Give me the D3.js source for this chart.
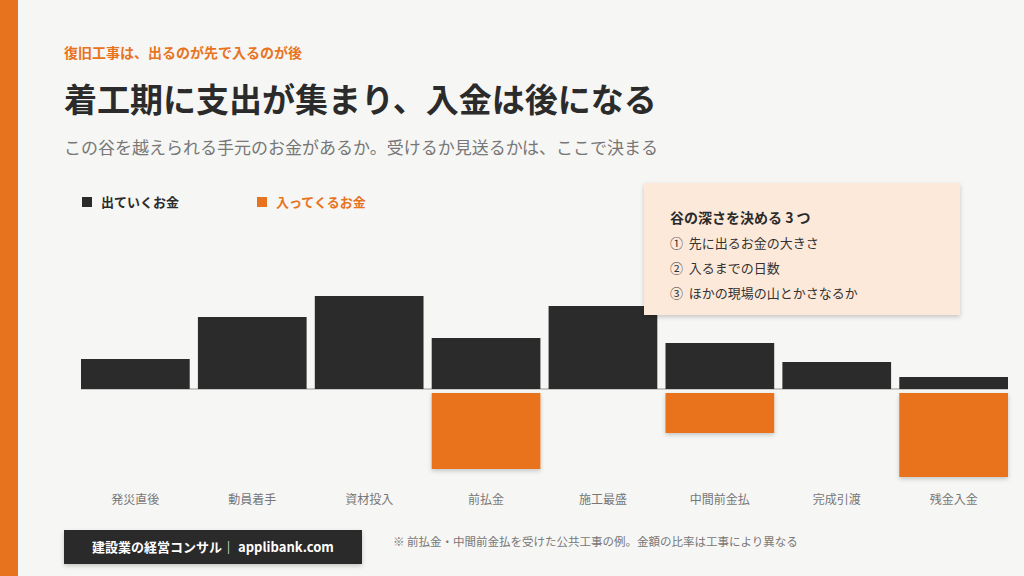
<!DOCTYPE html>
<html><head><meta charset="utf-8">
<script src="https://cdn.jsdelivr.net/npm/d3@7"></script>
<style>
body{margin:0;background:#f6f6f4;font-family:"Noto Sans CJK JP","Noto Sans",sans-serif;}
</style></head>
<body><svg id="chart" width="1024" height="576"></svg>
<script>
const categories = ["発災直後","動員着手","資材投入","前払金","施工最盛","中間前金払","完成引渡","残金入金"];
const outflow = [30, 72, 93, 51, 83, 46, 27, 12];
const inflow = [0, 0, 0, 80, 0, 44, 0, 88];
const boxLines = ["①  先に出るお金の大きさ","②  入るまでの日数","③  ほかの現場の山とかさなるか"];

const svg = d3.select("#chart");
const orange = "#e8731f", dark = "#2b2b2b";

svg.append("rect").attr("width",1024).attr("height",576).attr("fill","#f6f6f4");
svg.append("rect").attr("width",18).attr("height",576).attr("fill",orange);

svg.append("text").attr("x",64).attr("y",58).attr("fill",orange).attr("font-size",14).attr("font-weight",700)
  .text("復旧工事は、出るのが先で入るのが後");
svg.append("text").attr("x",64).attr("y",112).attr("fill",dark).attr("font-size",33).attr("font-weight",700)
  .text("着工期に支出が集まり、入金は後になる");
svg.append("text").attr("x",64).attr("y",154).attr("fill","#777").attr("font-size",17)
  .text("この谷を越えられる手元のお金があるか。受けるか見送るかは、ここで決まる");

// legend
svg.append("rect").attr("x",82).attr("y",197).attr("width",10).attr("height",10).attr("fill",dark);
svg.append("text").attr("x",101).attr("y",207).attr("fill",dark).attr("font-size",13).attr("font-weight",700).text("出ていくお金");
svg.append("rect").attr("x",257).attr("y",197).attr("width",10).attr("height",10).attr("fill",orange);
svg.append("text").attr("x",276).attr("y",207).attr("fill",orange).attr("font-size",13).attr("font-weight",700).text("入ってくるお金");

const x = d3.scaleBand().domain(categories).range([81,1008]).paddingInner(0.07).paddingOuter(0);
const y = d3.scaleLinear().domain([-100,100]).range([489,289]);

const shadow = svg.append("defs").append("filter").attr("id","sh").attr("x","-10%").attr("y","-10%").attr("width","130%").attr("height","140%");
shadow.append("feDropShadow").attr("dx",0).attr("dy",2).attr("stdDeviation",2).attr("flood-opacity",0.2);

svg.append("line").attr("x1",81).attr("x2",1008).attr("y1",y(0)).attr("y2",y(0)).attr("stroke","#999").attr("stroke-width",1);

svg.selectAll(".out").data(categories).join("rect")
  .attr("x",d=>x(d)).attr("width",x.bandwidth())
  .attr("y",(d,i)=>y(outflow[i])).attr("height",(d,i)=>y(0)-y(outflow[i]))
  .attr("fill",dark);
svg.selectAll(".in").data(categories.filter((d,i)=>inflow[i]>0)).join("rect")
  .attr("x",d=>x(d)).attr("width",x.bandwidth())
  .attr("y",y(0)+4).attr("height",d=>y(-inflow[categories.indexOf(d)])-y(0)-4)
  .attr("fill",orange).attr("filter","url(#sh)");

svg.selectAll(".lab").data(categories).join("text")
  .attr("x",d=>x(d)+x.bandwidth()/2).attr("y",504).attr("text-anchor","middle")
  .attr("fill","#777").attr("font-size",12).text(d=>d);

// callout box
const bx = svg.append("g").attr("transform","translate(644,183)");
bx.append("rect").attr("width",316).attr("height",132).attr("fill","#fde9da").attr("filter","url(#sh)");
bx.append("text").attr("x",26).attr("y",40).attr("fill",dark).attr("font-size",14).attr("font-weight",700).text("谷の深さを決める 3 つ");
bx.selectAll(".bl").data(boxLines).join("text").attr("x",26).attr("y",(d,i)=>65+i*25)
  .attr("fill","#333").attr("font-size",13).attr("xml:space","preserve").style("white-space","pre").text(d=>d);

// footer
svg.append("rect").attr("x",64).attr("y",530).attr("width",298).attr("height",34).attr("fill",dark).attr("filter","url(#sh)");
svg.append("text").attr("x",213).attr("y",552).attr("text-anchor","middle").attr("fill","#fff").attr("font-size",13).attr("font-weight",700)
  .text("建設業の経営コンサル｜ applibank.com");
svg.append("text").attr("x",393).attr("y",546).attr("fill","#777").attr("font-size",11.5)
  .text("※  前払金・中間前金払を受けた公共工事の例。金額の比率は工事により異なる");
</script></body></html>
